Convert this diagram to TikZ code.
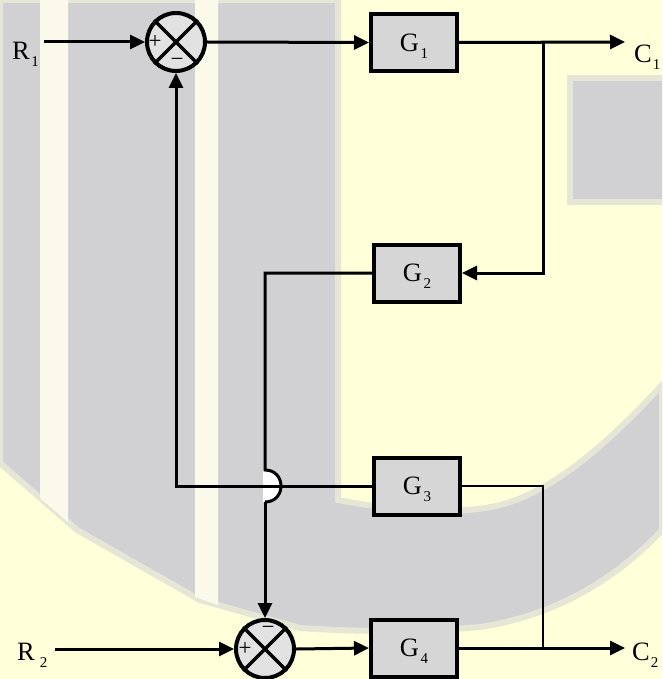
\documentclass[tikz,border=0pt]{standalone}
\usepackage{fontspec}
\setmainfont{Liberation Serif}
\usetikzlibrary{arrows.meta}
\definecolor{bgyellow}{HTML}{FFFFDA}
\definecolor{wmgray}{HTML}{D1D1D4}
\definecolor{wmpale}{HTML}{FAF9EA}
\definecolor{boxgray}{HTML}{D6D6D6}
\newcommand\bigfont{\fontsize{26.5}{30}\selectfont}
\newcommand\lowsub[2][1.5pt]{\kern#1\raisebox{-7pt}{\fontsize{15}{15}\selectfont #2}}
\begin{document}
\begin{tikzpicture}[x=1pt,y=-1pt,
  blk/.style={draw, line width=4pt, fill=boxgray, minimum width=86pt, minimum height=57pt,
    inner sep=0pt, font=\bigfont, text height=17.5pt, text depth=0pt},
  sumnode/.style={circle, draw, line width=4pt, fill=boxgray!70!white, minimum size=58pt, inner sep=0pt},
  conn/.style={line width=3pt, -{Triangle[length=15pt,width=14pt]}},
  wire/.style={line width=3pt},
  thinwire/.style={line width=1.5pt},
  cross/.style={line width=3.5pt},
  lbl/.style={font=\bigfont, inner sep=0pt, anchor=base west},
  sign/.style={font=\fontsize{23}{23}\selectfont, inner sep=0pt},
  softedge/.style={draw=wmgray!55!bgyellow, line width=6pt}
]
\useasboundingbox (0,0) rectangle (662,679);
\clip (0,0) rectangle (662,679);
% background watermark
\fill[bgyellow] (0,0) rectangle (662,679);
\path[softedge, fill=wmgray] (0,0) -- (338,0) -- (338,500)
  .. controls (400,512) and (460,515) .. (500,505)
  .. controls (560,490) and (620,430) .. (662,385)
  -- (662,530)
  .. controls (620,575) and (560,615) .. (480,627)
  .. controls (420,632) and (360,632) .. (300,628)
  -- (200,600) -- (77,530) -- (0,463) -- cycle;
\fill[wmpale] (40,0) -- (68,0) -- (68,522) -- (40,498) -- cycle;
\fill[wmpale] (195,0) -- (218,0) -- (218,605) -- (195,597) -- cycle;
\path[softedge, fill=wmgray] (570,78) rectangle (665,202);

% blocks
\node[sumnode] (S1) at (176,42) {};
\node[sumnode] (S2) at (265,649) {};
\node[blk] (G1) at (414,42.5) {G\lowsub{1}};
\node[blk] (G2) at (417,273) {G\lowsub{2}};
\node[blk] (G3) at (417,486) {G\lowsub{3}};
\node[blk] (G4) at (414,648) {G\lowsub{4}};
\draw[cross] (S1.north west) -- (S1.south east) (S1.north east) -- (S1.south west);
\draw[cross] (S2.north west) -- (S2.south east) (S2.north east) -- (S2.south west);
\node[sign] (S1p) at (155,42) {+};
\node[sign] (S1m) at (177,62) {−};
\node[sign] (S2p) at (245,649) {+};
\node[sign] (S2m) at (268,630) {−};

% labels
\node[lbl] (R1) at (12,60) {R\lowsub{1}};
\node[lbl] (C1) at (634,63) {C\lowsub[1pt]{1}};
\node[lbl] (R2) at (17,660) {R\lowsub[5pt]{2}};
\node[lbl] (C2) at (632,660) {C\lowsub[1pt]{2}};

% coordinates
\coordinate (r1e) at (44,42);
\coordinate (c1e) at (625,42);
\coordinate (b1) at (543,42);
\coordinate (r2e) at (55,649);
\coordinate (c2e) at (625,648);
\coordinate (b2) at (543,648);
\coordinate (jtop) at (265,470);
\coordinate (jbot) at (265,502);

% jump background
\fill[white] (263,470) -- (jtop) .. controls (286.3,470) and (286.3,502) .. (jbot) -- (263,502) -- cycle;

% connectors
\draw[conn] (r1e) -- (S1.west);
\draw[conn] (S1.east) -- (G1.west);
\draw[conn] (G1.east) -- (c1e);
\draw[conn] (b1) |- (G2.east);
\draw[wire] (G2.west) -| (jtop) .. controls (286.3,470) and (286.3,502) .. (jbot);
\draw[conn] (jbot) -- (S2.north);
\draw[conn] (G3.west) -| (S1.south);
\draw[thinwire] (G3.east) -| (b2);
\draw[conn] (r2e) -- (S2.west);
\draw[conn] (S2.east) -- (G4.west);
\draw[conn] (G4.east) -- (c2e);
\end{tikzpicture}
\end{document}
